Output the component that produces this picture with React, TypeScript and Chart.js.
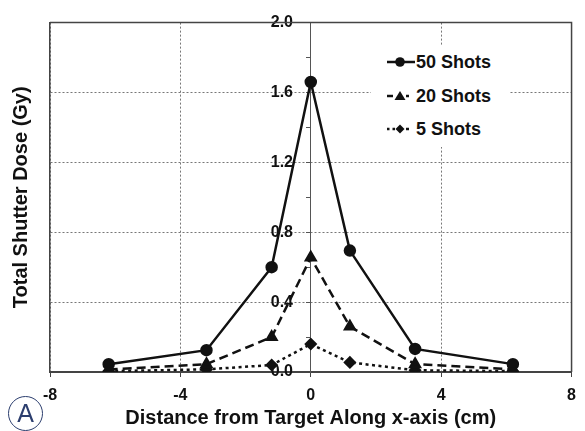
import React, { useEffect, useRef } from "react";
import { Chart, registerables } from "chart.js";

Chart.register(...registerables);

// ---- data ----
const distances = [-6.2, -3.2, -1.2, 0, 1.2, 3.2, 6.2];
const shots50 = [0.045, 0.125, 0.6, 1.66, 0.695, 0.132, 0.045];
const shots20 = [0.015, 0.045, 0.2, 0.655, 0.26, 0.045, 0.015];
const shots5 = [0.005, 0.015, 0.04, 0.16, 0.055, 0.01, 0.005];
const seriesLabels = ["50 Shots", "20 Shots", "5 Shots"];
const xRange = [-8, 8];
const xStep = 4;
const yRange = [0, 2.0];
const yStep = 0.4;
const xTitle = "Distance from Target Along x-axis (cm)";
const yTitle = "Total Shutter Dose (Gy)";
const panelLetter = "A";

const FONT = "'Liberation Sans', Arial, Helvetica, sans-serif";
const INK = "#111";

const boxPlugin = {
  id: "plotBox",
  beforeDatasetsDraw(chart: any) {
    const { ctx, chartArea } = chart;
    ctx.save();
    ctx.strokeStyle = "#444";
    ctx.lineWidth = 1.5;
    ctx.beginPath();
    ctx.moveTo(chartArea.left, chartArea.top);
    ctx.lineTo(chartArea.right, chartArea.top);
    ctx.lineTo(chartArea.right, chartArea.bottom);
    ctx.stroke();
    ctx.restore();
  },
};

function LegendSample({ kind }: { kind: number }) {
  const y = 8;
  if (kind === 0) {
    return (
      <svg width="28" height="16">
        <line x1="0" y1={y} x2="28" y2={y} stroke={INK} strokeWidth="2.5" />
        <circle cx="13" cy={y} r="4.8" fill={INK} />
      </svg>
    );
  }
  if (kind === 1) {
    return (
      <svg width="28" height="16">
        <line x1="0" y1={y} x2="6" y2={y} stroke={INK} strokeWidth="2.5" />
        <line x1="19" y1={y} x2="22" y2={y} stroke={INK} strokeWidth="2.5" />
        <polygon points={`13,${y - 5} 18.5,${y + 4} 7.5,${y + 4}`} fill={INK} />
      </svg>
    );
  }
  return (
    <svg width="28" height="16">
      <line x1="0" y1={y} x2="8" y2={y} stroke={INK} strokeWidth="2.5" strokeDasharray="2.5 3" />
      <line x1="19" y1={y} x2="22" y2={y} stroke={INK} strokeWidth="2.5" />
      <polygon points={`13,${y - 4.5} 17.5,${y} 13,${y + 4.5} 8.5,${y}`} fill={INK} />
    </svg>
  );
}

export default function App() {
  const canvasRef = useRef<HTMLCanvasElement | null>(null);

  useEffect(() => {
    const canvas = canvasRef.current;
    if (!canvas) return;
    Chart.defaults.font.family = FONT;
    Chart.defaults.color = INK;

    const toPoints = (arr: number[]) => distances.map((x, i) => ({ x, y: arr[i] }));

    const chart = new Chart(canvas, {
      type: "scatter",
      data: {
        datasets: [
          {
            label: seriesLabels[0],
            data: toPoints(shots50),
            showLine: true,
            borderColor: INK,
            backgroundColor: INK,
            borderWidth: 2.5,
            pointStyle: "circle",
            pointRadius: 5,
            pointBackgroundColor: INK,
            pointBorderColor: INK,
            yAxisID: "y",
          },
          {
            label: seriesLabels[1],
            data: toPoints(shots20),
            showLine: true,
            borderColor: INK,
            backgroundColor: INK,
            borderWidth: 2.5,
            borderDash: [9, 5],
            pointStyle: "triangle",
            pointRadius: 5.5,
            pointBackgroundColor: INK,
            pointBorderColor: INK,
            yAxisID: "y",
          },
          {
            label: seriesLabels[2],
            data: toPoints(shots5),
            showLine: true,
            borderColor: INK,
            backgroundColor: INK,
            borderWidth: 2.5,
            borderDash: [3, 3.5],
            pointStyle: "rectRot",
            pointRadius: 4.8,
            pointBackgroundColor: INK,
            pointBorderColor: INK,
            yAxisID: "y",
          },
        ],
      },
      options: {
        animation: false,
        responsive: false,
        devicePixelRatio: 1,
        layout: { padding: { top: 19, right: 8, left: 0, bottom: 0 } },
        plugins: { legend: { display: false }, tooltip: { enabled: false } },
        scales: {
          x: {
            type: "linear",
            min: xRange[0],
            max: xRange[1],
            ticks: {
              stepSize: xStep,
              color: INK,
              font: { size: 16, weight: "bold" },
              padding: 9,
              maxRotation: 0,
            },
            grid: {
              color: (ctx: any) =>
                ctx.tick && ctx.tick.value === 0 ? "rgba(0,0,0,0)" : "#777",
              lineWidth: 1,
              tickLength: 5,
              tickColor: "#444",
            },
            border: { display: true, color: "#444", width: 2, dash: [2, 2] },
            title: {
              display: true,
              text: xTitle,
              color: INK,
              font: { size: 20, weight: "bold" },
              padding: { top: 0, bottom: 1 },
            },
            afterFit: (s: any) => {
              s.height = 59;
            },
          } as any,
          y: {
            type: "linear",
            position: "left",
            min: yRange[0],
            max: yRange[1],
            ticks: { display: false, stepSize: yStep },
            grid: { color: "#777", lineWidth: 1, drawTicks: false },
            border: { display: true, color: "#444", width: 1.5, dash: [2, 2] },
            title: {
              display: true,
              text: yTitle,
              color: INK,
              font: { size: 20, weight: "bold" },
              padding: { top: 9, bottom: 0 },
            },
            afterFit: (s: any) => {
              s.width = 50;
            },
          } as any,
          y2: {
            type: "linear",
            position: { x: 0 },
            min: yRange[0],
            max: yRange[1],
            ticks: {
              stepSize: yStep / 2,
              autoSkip: false,
              padding: 13,
              color: INK,
              font: { size: 16, weight: "bold" },
              callback: (v: any) =>
                Math.round(Number(v) * 10) % Math.round(yStep * 10) === 0
                  ? Number(v).toFixed(1) + "    "
                  : "",
            },
            grid: { drawOnChartArea: false, tickLength: 4, tickColor: "#555" },
            border: { display: true, color: "#555", width: 1 },
          } as any,
        },
      },
      plugins: [boxPlugin],
    } as any);

    return () => chart.destroy();
  }, []);

  const rowTops = [17, 51, 84];
  const kinds = [0, 1, 2];

  return (
    <div
      style={{
        position: "absolute",
        left: 0,
        top: 0,
        width: 585,
        height: 431,
        background: "#fff",
        overflow: "hidden",
        fontFamily: FONT,
      }}
    >
      <canvas ref={canvasRef} width={585} height={431} style={{ width: 585, height: 431, display: "block" }} />
      <div
        style={{
          position: "absolute",
          left: 371,
          top: 45,
          width: 139,
          height: 102,
          background: "#fff",
        }}
      >
        {kinds.map((k) => (
          <div
            key={k}
            style={{
              position: "absolute",
              left: 16,
              top: rowTops[k] - 11,
              height: 22,
              display: "flex",
              alignItems: "center",
              whiteSpace: "nowrap",
            }}
          >
            <LegendSample kind={k} />
            <span style={{ fontSize: 18, fontWeight: "bold", color: INK, marginLeft: 1, lineHeight: "22px" }}>
              {seriesLabels[k]}
            </span>
          </div>
        ))}
      </div>
      <div
        style={{
          position: "absolute",
          left: 8,
          top: 396,
          width: 35,
          height: 35,
          boxSizing: "border-box",
          border: "1.5px solid #2c3e6e",
          borderRadius: "50%",
          color: "#2c3e6e",
          fontSize: 25,
          lineHeight: "33px",
          textAlign: "center",
        }}
      >
        {panelLetter}
      </div>
    </div>
  );
}
